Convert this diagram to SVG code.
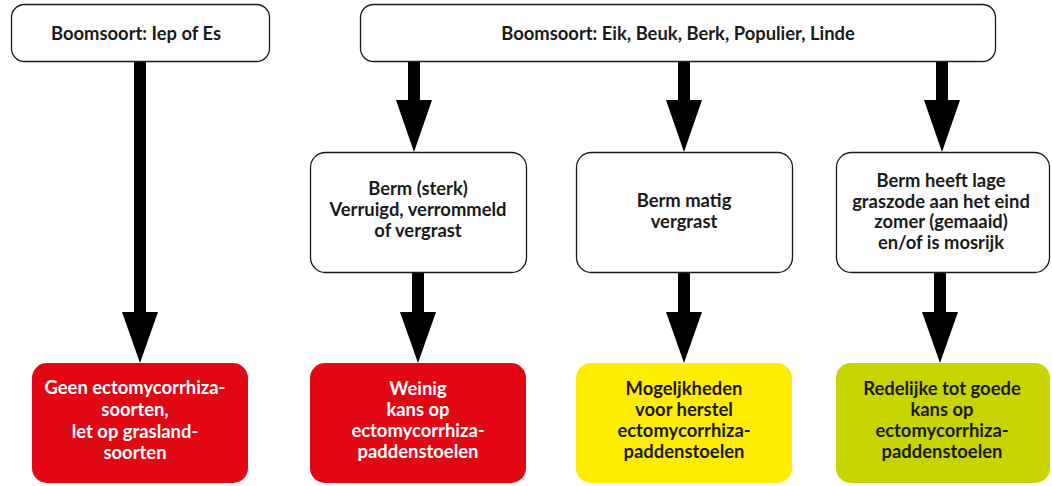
<svg xmlns="http://www.w3.org/2000/svg" width="1052" height="486" viewBox="0 0 1052 486">
<style>
  .box { fill: #ffffff; stroke: #1a1a1a; stroke-width: 1.3; }
  .red { fill: #e30613; }
  .yellow { fill: #ffed00; }
  .green { fill: #c8d400; }
  text { font-family: Lato, "Open Sans", "Liberation Sans", sans-serif; font-weight: bold; font-size: 18.4px; text-anchor: middle; fill: #1a1a1a; }
  text.w { fill: #ffffff; }
  .arrow { fill: #000000; }
</style>
<rect width="1052" height="486" fill="#ffffff"/>
<g id="connectors">
  <polygon class="arrow" points="134,62 146,62 146,312 158,312 140,363 122,312 134,312"/>
  <polygon class="arrow" points="408,62 420,62 420,100 432,100 414,152 396,100 408,100"/>
  <polygon class="arrow" points="678,62 690,62 690,100 702,100 684,152 666,100 678,100"/>
  <polygon class="arrow" points="936,62 948,62 948,100 960,100 942,152 924,100 936,100"/>
  <polygon class="arrow" points="412,273 424,273 424,312 436,312 418,363 400,312 412,312"/>
  <polygon class="arrow" points="678,273 690,273 690,312 702,312 684,363 666,312 678,312"/>
  <polygon class="arrow" points="934,273 946,273 946,312 958,312 940,363 922,312 934,312"/>
</g>
<g id="node-iep">
  <rect class="box" x="11.5" y="4.5" width="258" height="57" rx="13"/>
  <text x="136" y="40">Boomsoort: Iep of Es</text>
</g>
<g id="node-eik">
  <rect class="box" x="360.5" y="4.5" width="635" height="57" rx="13"/>
  <text x="678" y="40">Boomsoort: Eik, Beuk, Berk, Populier, Linde</text>
</g>
<g id="node-sterk">
  <rect class="box" x="310.5" y="152.5" width="216" height="120" rx="15"/>
  <text x="418" y="195">Berm (sterk)</text>
  <text x="418" y="216">Verruigd, verrommeld</text>
  <text x="418" y="237">of vergrast</text>
</g>
<g id="node-matig">
  <rect class="box" x="576.5" y="152.5" width="216" height="120" rx="15"/>
  <text x="684" y="207">Berm matig</text>
  <text x="684" y="228">vergrast</text>
</g>
<g id="node-laag">
  <rect class="box" x="836.5" y="152.5" width="213" height="120" rx="15"/>
  <text x="941" y="187">Berm heeft lage</text>
  <text x="941" y="207.5">graszode aan het eind</text>
  <text x="941" y="228">zomer (gemaaid)</text>
  <text x="941" y="248.5">en/of is mosrijk</text>
</g>
<g id="node-geen">
  <rect class="red" x="32" y="363" width="216" height="120" rx="15"/>
  <text class="w" x="135" y="394">Geen ectomycorrhiza-</text>
  <text class="w" x="135" y="416">soorten,</text>
  <text class="w" x="135" y="438">let op grasland-</text>
  <text class="w" x="135" y="459">soorten</text>
</g>
<g id="node-weinig">
  <rect class="red" x="310" y="363" width="216" height="120" rx="15"/>
  <text class="w" x="418" y="395">Weinig</text>
  <text class="w" x="418" y="416">kans op</text>
  <text class="w" x="418" y="437">ectomycorrhiza-</text>
  <text class="w" x="418" y="458">paddenstoelen</text>
</g>
<g id="node-herstel">
  <rect class="yellow" x="576" y="363" width="216" height="120" rx="15"/>
  <text x="684" y="395">Mogeljkheden</text>
  <text x="684" y="416">voor herstel</text>
  <text x="684" y="437">ectomycorrhiza-</text>
  <text x="684" y="458">paddenstoelen</text>
</g>
<g id="node-goed">
  <rect class="green" x="836" y="363" width="214" height="120" rx="15"/>
  <text x="942" y="395">Redelijke tot goede</text>
  <text x="942" y="416">kans op</text>
  <text x="942" y="437">ectomycorrhiza-</text>
  <text x="942" y="458">paddenstoelen</text>
</g>
</svg>
